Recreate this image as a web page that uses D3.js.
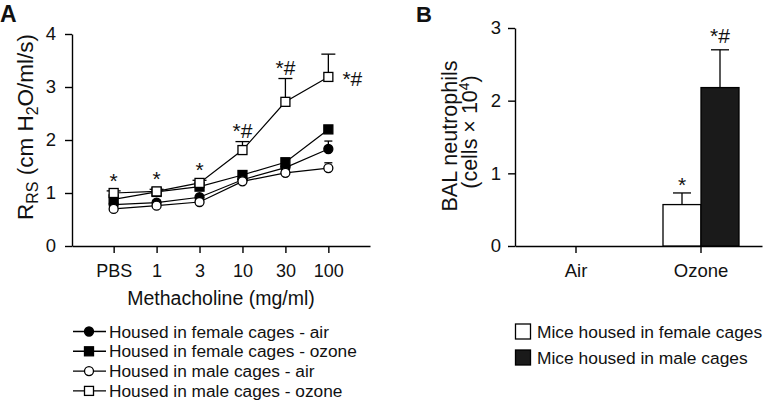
<!DOCTYPE html>
<html><head><meta charset="utf-8">
<script src="https://cdn.jsdelivr.net/npm/d3@7"></script>
<style>body{margin:0;background:#fff}svg{font-family:"Liberation Sans",Arial,sans-serif}</style>
</head><body><svg id="c" width="767" height="405"></svg>
<script>
// Panel A data
const doses = ["PBS","1","3","10","30","100"];
const femaleAir = [0.78,0.82,0.92,1.25,1.48,1.83];
const femaleAirErr = [0.03,0.03,0.03,0.03,0.04,0.15];
const femaleOzone = [0.88,1.02,1.12,1.34,1.58,2.20];
const femaleOzoneErr = [0.03,0.03,0.03,0.03,0.05,0.05];
const maleAir = [0.70,0.76,0.83,1.22,1.38,1.47];
const maleAirErr = [0.02,0.02,0.02,0.02,0.03,0.10];
const maleOzone = [1.00,1.03,1.19,1.81,2.72,3.19];
const maleOzoneErr = [0.04,0.04,0.05,0.16,0.44,0.43];
const sigA = ["*","*","*","*#","*#","*#"];
const yTicksA = [0,1,2,3,4];
// Panel B data
const exposures = ["Air","Ozone"];
const housing = ["Mice housed in female cages","Mice housed in male cages"];
const neutroFemale = [0,0.57];
const neutroFemaleErr = [0,0.16];
const neutroMale = [0,2.18];
const neutroMaleErr = [0,0.52];
const sigB = [["",""],["*","*#"]];
const yTicksB = [0,1,2,3];

const svg = d3.select("#c");
const INK = "#111";

// ---------- Panel A ----------
const xA = d3.scalePoint().domain(doses).range([72,370]).padding(0.97);
const yA = d3.scaleLinear().domain([0,4]).range([246,34]);
const gA = svg.append("g");
gA.append("text").attr("x",0).attr("y",22).attr("font-size",23).attr("font-weight","bold").attr("fill",INK).text("A");
const axL = gA.append("g").attr("transform","translate(72,0)")
  .call(d3.axisLeft(yA).tickValues(yTicksA).tickFormat(d3.format("d")).tickSize(7).tickSizeOuter(0));
axL.selectAll("path,line").attr("stroke","#000").attr("stroke-width",1.4);
axL.selectAll("text").attr("font-size",18.5).attr("font-family","Liberation Sans, Arial").attr("x",-16).attr("fill",INK);
const axB = gA.append("g").attr("transform","translate(0,246)")
  .call(d3.axisBottom(xA).tickSize(7).tickSizeOuter(0));
axB.selectAll("path,line").attr("stroke","#000").attr("stroke-width",1.4);
axB.selectAll("text").attr("font-size",18).attr("font-family","Liberation Sans, Arial").attr("dy","1.15em").attr("fill",INK);
const yl = gA.append("text").attr("transform","translate(33,127) rotate(-90)")
  .attr("text-anchor","middle").attr("font-size",22.5).attr("fill",INK);
yl.append("tspan").text("R");
yl.append("tspan").attr("font-size",16).attr("dy",5).text("RS");
yl.append("tspan").attr("dy",-5).text(" (cm H");
yl.append("tspan").attr("font-size",16).attr("dy",5).text("2");
yl.append("tspan").attr("dy",-5).text("O/ml/s)");
gA.append("text").attr("x",221).attr("y",305).attr("text-anchor","middle").attr("font-size",19.5).attr("fill",INK).text("Methacholine (mg/ml)");

const seriesA = [
  {name:"Housed in female cages - air", v:femaleAir, e:femaleAirErr, shape:"circle", fill:"#000", cap:4},
  {name:"Housed in female cages - ozone", v:femaleOzone, e:femaleOzoneErr, shape:"square", fill:"#000", cap:4},
  {name:"Housed in male cages - air", v:maleAir, e:maleAirErr, shape:"circle", fill:"#fff", cap:4},
  {name:"Housed in male cages - ozone", v:maleOzone, e:maleOzoneErr, shape:"square", fill:"#fff", cap:7}
];
const line = d3.line().x((d,i)=>xA(doses[i])).y(d=>yA(d));
function marker(g, shape, fill, x, y){
  if(shape==="circle") g.append("circle").attr("cx",x).attr("cy",y).attr("r",4.5).attr("fill",fill).attr("stroke","#000").attr("stroke-width",1.3);
  else g.append("rect").attr("x",x-4.5).attr("y",y-4.5).attr("width",9).attr("height",9).attr("fill",fill).attr("stroke","#000").attr("stroke-width",1.3);
}
seriesA.forEach(s=>{
  s.v.forEach((v,i)=>{
    const x = xA(doses[i]);
    gA.append("line").attr("x1",x).attr("x2",x).attr("y1",yA(v)).attr("y2",yA(v+s.e[i])).attr("stroke","#000").attr("stroke-width",1.3);
    gA.append("line").attr("x1",x-s.cap).attr("x2",x+s.cap).attr("y1",yA(v+s.e[i])).attr("y2",yA(v+s.e[i])).attr("stroke","#000").attr("stroke-width",1.3);
  });
});
seriesA.forEach(s=>{
  gA.append("path").attr("d",line(s.v)).attr("fill","none").attr("stroke","#000").attr("stroke-width",1.2);
});
seriesA.forEach(s=>{
  s.v.forEach((v,i)=>marker(gA,s.shape,s.fill,xA(doses[i]),yA(v)));
});
sigA.forEach((t,i)=>{
  const top = maleOzone[i]+maleOzoneErr[i];
  if(i===5){
    gA.append("text").attr("x",xA(doses[i])+24).attr("y",yA(maleOzone[i])+9).attr("text-anchor","middle").attr("font-size",21).attr("fill",INK).text(t);
  } else {
    gA.append("text").attr("x",xA(doses[i])).attr("y",yA(top)-(t.length>1?4:3)).attr("text-anchor","middle").attr("font-size",21).attr("fill",INK).text(t);
  }
});
seriesA.forEach((s,i)=>{
  const y = 331.5 + i*19.8;
  gA.append("line").attr("x1",73).attr("x2",106).attr("y1",y).attr("y2",y).attr("stroke","#000").attr("stroke-width",1.4);
  marker(gA,s.shape,s.fill,89,y);
  gA.append("text").attr("x",109).attr("y",y+6).attr("font-size",17.3).attr("fill",INK).text(s.name);
});

// ---------- Panel B ----------
const xB = d3.scaleBand().domain(exposures).range([515,762]).paddingInner(0.392).paddingOuter(0.184);
const xSub = d3.scaleBand().domain(housing).range([0,xB.bandwidth()]);
const yB = d3.scaleLinear().domain([0,3]).range([246,28]);
const gB = svg.append("g");
gB.append("text").attr("x",416).attr("y",22).attr("font-size",22).attr("font-weight","bold").attr("fill",INK).text("B");
const bL = gB.append("g").attr("transform","translate(515,0)")
  .call(d3.axisLeft(yB).tickValues(yTicksB).tickFormat(d3.format("d")).tickSize(7).tickSizeOuter(0));
bL.selectAll("path,line").attr("stroke","#000").attr("stroke-width",1.4);
bL.selectAll("text").attr("font-size",18.5).attr("font-family","Liberation Sans, Arial").attr("x",-14).attr("fill",INK);
const bB = gB.append("g").attr("transform","translate(0,246)")
  .call(d3.axisBottom(xB).tickSize(7).tickSizeOuter(0));
bB.selectAll("path,line").attr("stroke","#000").attr("stroke-width",1.4);
bB.selectAll("text").attr("font-size",18.5).attr("font-family","Liberation Sans, Arial").attr("dy","1.15em").attr("fill",INK);
gB.append("text").attr("transform","translate(457,136) rotate(-90)").attr("text-anchor","middle").attr("font-size",21.5).attr("fill",INK).text("BAL neutrophils");
const yl2 = gB.append("text").attr("transform","translate(477,132) rotate(-90)").attr("text-anchor","middle").attr("font-size",21.5).attr("fill",INK);
yl2.append("tspan").text("(cells × 10");
yl2.append("tspan").attr("font-size",14).attr("dy",-8).text("4");
yl2.append("tspan").attr("dy",8).text(")");

const barSeries = [
  {v:neutroFemale, e:neutroFemaleErr, fill:"#fff"},
  {v:neutroMale, e:neutroMaleErr, fill:"#1a1a1a"}
];
exposures.forEach((ex,j)=>{
  barSeries.forEach((s,k)=>{
    const v = s.v[j];
    if(v<=0) return;
    const x0 = xB(ex)+xSub(housing[k]);
    const w = xSub.bandwidth();
    const xc = x0+w/2;
    const top = yB(v+s.e[j]);
    gB.append("line").attr("x1",xc).attr("x2",xc).attr("y1",yB(v)).attr("y2",top).attr("stroke","#000").attr("stroke-width",1.3);
    gB.append("line").attr("x1",xc-9).attr("x2",xc+9).attr("y1",top).attr("y2",top).attr("stroke","#000").attr("stroke-width",1.3);
    gB.append("rect").attr("x",x0).attr("y",yB(v)).attr("width",w).attr("height",yB(0)-yB(v)).attr("fill",s.fill).attr("stroke","#000").attr("stroke-width",1.3);
    gB.append("text").attr("x",xc).attr("y",top-(k===1?7:1)).attr("text-anchor","middle").attr("font-size",21).attr("fill",INK).text(sigB[j][k]);
  });
});
housing.forEach((h,i)=>{
  const y = 331.5 + i*26;
  gB.append("rect").attr("x",515.5).attr("y",y-7.5).attr("width",15).attr("height",15).attr("fill",barSeries[i].fill).attr("stroke","#000").attr("stroke-width",1.3);
  gB.append("text").attr("x",537).attr("y",y+6).attr("font-size",17.4).attr("fill",INK).text(h);
});
</script></body></html>
